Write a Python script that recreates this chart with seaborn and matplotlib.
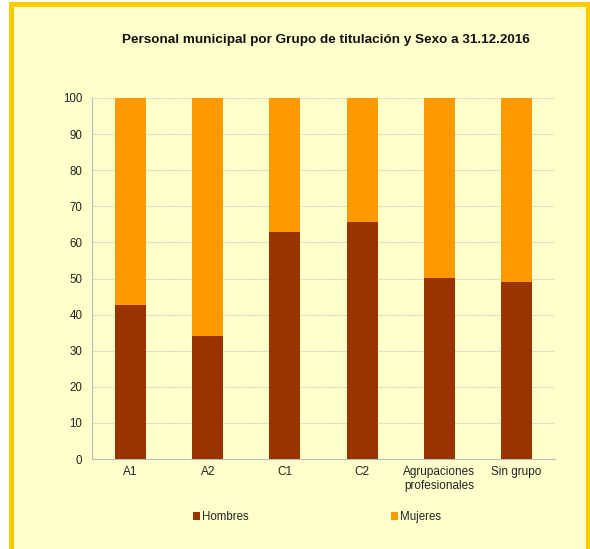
import matplotlib
matplotlib.use("Agg")
import matplotlib.pyplot as plt
import seaborn as sns
import pandas as pd
from matplotlib.patches import Rectangle, Patch
from matplotlib.ticker import MultipleLocator, FixedLocator

categories = ["A1", "A2", "C1", "C2", "Agrupaciones\nprofesionales", "Sin grupo"]
hombres = [42.7, 34.1, 62.9, 65.7, 50.2, 49.0]
mujeres = [57.3, 65.9, 37.1, 34.3, 49.8, 51.0]
series_names = ["Hombres", "Mujeres"]
title = "Personal municipal por Grupo de titulación y Sexo a 31.12.2016"

c_h = "#993300"
c_m = "#FF9900"
bg = "#FFFFCC"
border = "#FFCC00"

sns.set_style("white")
plt.rcParams["font.family"] = ["Liberation Sans", "DejaVu Sans"]

W, H = 590, 549
fig = plt.figure(figsize=(W / 100, H / 100), dpi=100)
fig.patch.set_facecolor("white")

# frame
fig.patches.append(Rectangle((9 / W, 0), 1 - 9 / W, 1 - 2 / H, transform=fig.transFigure,
                             facecolor=border, edgecolor="none", zorder=-5))
fig.patches.append(Rectangle((14 / W, 0), 572 / W, 1 - 7 / H, transform=fig.transFigure,
                             facecolor=bg, edgecolor="none", zorder=-4))

ax = fig.add_axes([92 / W, 1 - 459 / H, 463 / W, 361 / H])
ax.set_zorder(1)
ax.set_facecolor("none")

df = pd.DataFrame({"cat": categories, "h": hombres,
                   "tot": [a + b for a, b in zip(hombres, mujeres)]})
sns.barplot(data=df, x="cat", y="tot", color=c_m, width=0.4, ax=ax,
            saturation=1, edgecolor="none", zorder=2)
sns.barplot(data=df, x="cat", y="h", color=c_h, width=0.4, ax=ax,
            saturation=1, edgecolor="none", zorder=3)

ax.set_xlim(-0.5, len(categories) - 0.5)
ax.set_ylim(0, 100)
ax.yaxis.set_major_locator(MultipleLocator(10))
ax.grid(axis="y", color="#C4C4C4", linestyle=(0, (1, 1)), linewidth=0.8, zorder=0)
ax.set_axisbelow(True)
for s in ["top", "right"]:
    ax.spines[s].set_visible(False)
for s in ["left", "bottom"]:
    ax.spines[s].set_color("#BBBBBB")
    ax.spines[s].set_linewidth(0.8)
ax.set_xlabel("")
ax.set_ylabel("")
ax.set_xticks(range(len(categories)))
ax.set_xticklabels(categories, fontsize=8.5, color="#222222", linespacing=1.2)
ax.tick_params(axis="x", which="major", length=0, pad=5)
ax.xaxis.set_minor_locator(FixedLocator([i - 0.5 for i in range(len(categories) + 1)]))
ax.tick_params(axis="x", which="minor", length=4, color="#BBBBBB", width=0.8)
ax.tick_params(axis="y", labelsize=8.3, labelcolor="#222222", length=4, color="#BBBBBB",
               width=0.8, pad=3)

fig.text(326 / W, 1 - 40 / H, title, ha="center", va="center", fontsize=9.7,
         fontweight="bold", color="#111111")

handles = [Patch(facecolor=c_h, edgecolor="none"), Patch(facecolor=c_m, edgecolor="none")]
fig.legend(handles, series_names, loc="center", bbox_to_anchor=(317 / W, 1 - 517 / H),
           ncol=2, frameon=False, fontsize=8.3, handlelength=0.6, handleheight=0.6,
           handletextpad=0.2, columnspacing=12.3)

fig.savefig("out.png", dpi=100, facecolor=fig.get_facecolor())
